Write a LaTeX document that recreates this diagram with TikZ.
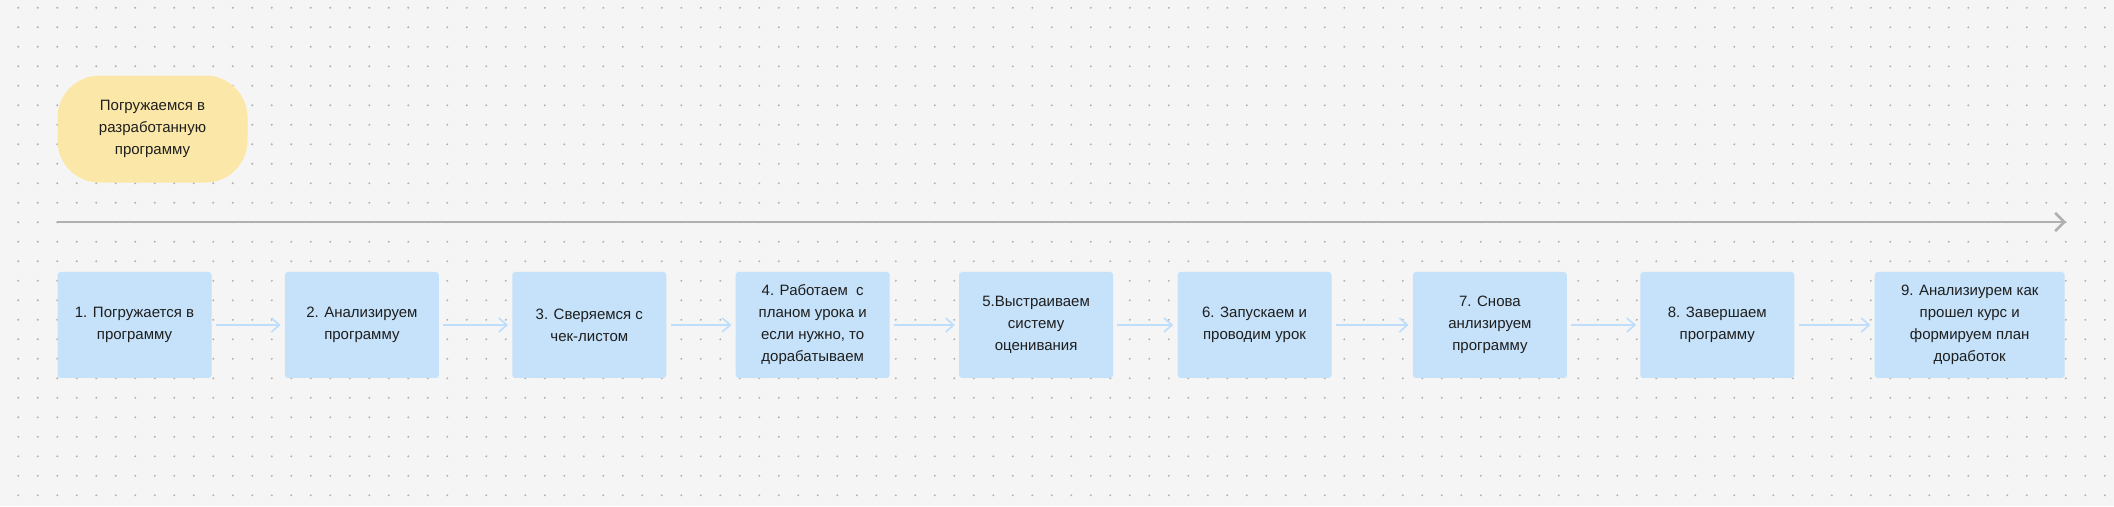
\documentclass[tikz,border=0pt]{standalone}
\usepackage{fontspec}
\setmainfont{Liberation Sans}
\usepackage{tikz}
\usetikzlibrary{arrows.meta,positioning}
\definecolor{pagegray}{RGB}{245,245,245}
\definecolor{dotgray}{RGB}{178,178,178}
\definecolor{stepblue}{RGB}{197,226,250}
\definecolor{flowblue}{RGB}{190,222,251}
\definecolor{goalyellow}{RGB}{251,232,169}
\definecolor{linegray}{RGB}{176,176,176}
\definecolor{ink}{RGB}{30,30,30}
\tikzset{
  stepbox/.style={rectangle, rounded corners=3pt, minimum width=154pt, minimum height=106pt, inner sep=0pt, align=center, fill=stepblue, text=ink, font=\fontsize{15}{22}\selectfont},
  goalbox/.style={rectangle, rounded corners=42pt, minimum width=190pt, minimum height=107pt, inner sep=0pt, align=center, fill=goalyellow, text=ink, font=\fontsize{15}{22}\selectfont},
  flow/.style={line width=1.7pt, color=flowblue, -{Straight Barb[length=8pt,width=14pt]}, shorten <=4pt, shorten >=4pt},
  timeline/.style={line width=2.6pt, color=linegray, -{Straight Barb[length=9pt,width=18pt]}}
}

\begin{document}
\begin{tikzpicture}[x=1pt,y=1pt]
% Background with dot grid
\fill[pagegray] (0,0) rectangle (2114,506);
\useasboundingbox (0,0) rectangle (2114,506);
\foreach \i in {0,...,107}
  \foreach \j in {0,...,25}
    \fill[dotgray] (18.3+19.5*\i, 498.2-19.5*\j) circle (1.1);

% Step nodes
\node (s1) [stepbox] at (134.5,181) {1. Погружается в\\программу};
\node (s2) [stepbox, right=73pt of s1] {2. Анализируем\\программу};
\node (s3) [stepbox, right=73pt of s2] {3. Сверяемся с\\чек-листом};
\node (s4) [stepbox, right=69pt of s3] {4. Работаем\ \ с\\планом урока и\\если нужно, то\\дорабатываем};
\node (s5) [stepbox, right=69pt of s4] {5.Выстраиваем\\систему\\оценивания};
\node (s6) [stepbox, right=64pt of s5] {6. Запускаем и\\проводим урок};
\node (s7) [stepbox, right=81pt of s6] {7. Снова\\анлизируем\\программу};
\node (s8) [stepbox, right=73pt of s7] {8. Завершаем\\программу};
\node (s9) [stepbox, right=80pt of s8, minimum width=190pt] {9. Анализиурем как\\прошел курс и\\формируем план\\доработок};

% Goal
\node (goal) [goalbox, above=89pt of s1.north west, anchor=south west] {Погружаемся в\\разработанную\\программу};

% Timeline
\coordinate (tstart) at (57,284);
\coordinate (tend) at (2066,284);
\draw[timeline] (tstart) -- (tend);

% Arrows
\draw[flow] (s1) -- (s2);
\draw[flow] (s2) -- (s3);
\draw[flow] (s3) -- (s4);
\draw[flow] (s4) -- (s5);
\draw[flow] (s5) -- (s6);
\draw[flow] (s6) -- (s7);
\draw[flow] (s7) -- (s8);
\draw[flow] (s8) -- (s9);
\end{tikzpicture}
\end{document}
